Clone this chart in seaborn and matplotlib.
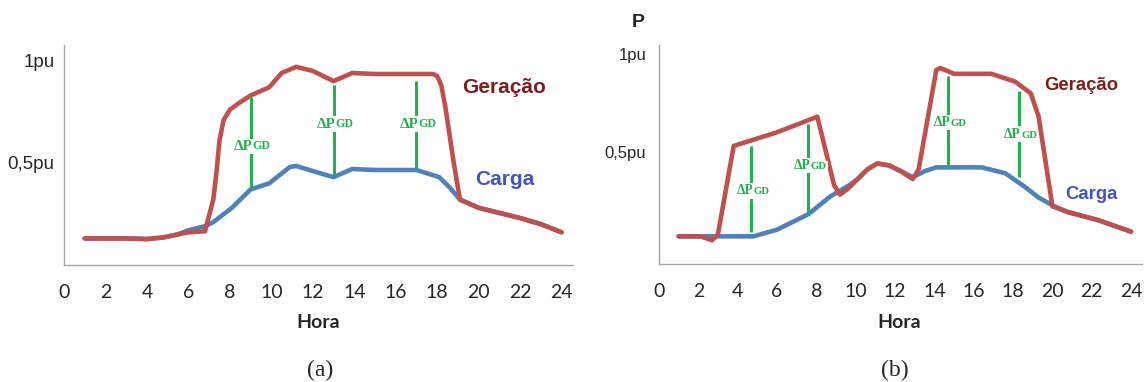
import numpy as np
import pandas as pd
import seaborn as sns
import matplotlib.pyplot as plt

# Panel (a): generation vs load
hours_a_ger = [1, 2, 3, 4, 4.8, 5.5, 6.0, 6.8, 7.2, 7.35, 7.5, 7.7, 8.0, 8.4, 9.0, 9.9, 10.5,
               11.2, 12.0, 13.0, 13.9, 15.0, 16.0, 17.0, 17.8, 18.0, 18.2, 18.4, 18.8,
               19.1, 20.0, 21.0, 22.0, 23.0, 24.0]
ger_a = [0.13, 0.13, 0.13, 0.127, 0.135, 0.15, 0.16, 0.165, 0.32, 0.45, 0.61, 0.71, 0.76,
         0.79, 0.83, 0.87, 0.94, 0.97, 0.95, 0.90, 0.94, 0.935, 0.935, 0.935, 0.935, 0.925,
         0.88, 0.77, 0.50, 0.32, 0.28, 0.255, 0.23, 0.20, 0.16]
hours_a_car = [1, 2, 3, 4, 4.8, 5.5, 6.0, 6.8, 7.2, 8.1, 9.0, 9.9, 10.9, 11.2, 12.0, 13.0,
               13.9, 15.0, 17.0, 18.1, 18.6, 19.1, 20.0, 21.0, 22.0, 23.0, 24.0]
car_a = [0.13, 0.13, 0.13, 0.127, 0.135, 0.15, 0.17, 0.19, 0.21, 0.28, 0.37, 0.40, 0.48,
         0.485, 0.46, 0.43, 0.47, 0.465, 0.465, 0.43, 0.38, 0.32, 0.28, 0.255, 0.23, 0.20,
         0.16]
dp_a_x = [9.0, 13.0, 17.0]
dp_a_top = [0.82, 0.88, 0.90]
dp_a_bot = [0.38, 0.44, 0.465]
dp_a_lab = [0.58, 0.69, 0.69]

# Panel (b)
hours_b_ger = [1.0, 2.1, 2.7, 3.0, 3.8, 6.0, 8.05, 8.9, 9.2, 9.6, 10.1, 10.6, 11.1, 11.7,
               12.3, 12.9, 13.2, 14.1, 14.3, 15.0, 16.9, 18.1, 18.9, 19.3, 20.0, 20.8,
               22.3, 24.0]
ger_b = [0.066, 0.066, 0.046, 0.077, 0.53, 0.60, 0.68, 0.33, 0.28, 0.31, 0.36, 0.41, 0.44,
         0.43, 0.40, 0.36, 0.41, 0.92, 0.93, 0.90, 0.90, 0.86, 0.80, 0.68, 0.22, 0.19,
         0.15, 0.09]
hours_b_car = [1.0, 3.0, 4.8, 6.0, 7.6, 8.7, 9.7, 10.1, 10.6, 11.1, 11.7, 12.3, 12.9, 13.5,
               14.1, 16.4, 17.6, 18.6, 19.3, 20.1, 20.8, 22.3, 24.0]
car_b = [0.066, 0.066, 0.066, 0.10, 0.18, 0.27, 0.33, 0.36, 0.41, 0.44, 0.43, 0.40, 0.37,
         0.40, 0.42, 0.42, 0.39, 0.32, 0.265, 0.22, 0.19, 0.15, 0.09]
dp_b_x = [4.7, 7.6, 14.7, 18.3]
dp_b_top = [0.53, 0.64, 0.89, 0.81]
dp_b_bot = [0.087, 0.18, 0.42, 0.37]
dp_b_lab = [0.30, 0.43, 0.65, 0.59]

x_ticks = list(range(0, 25, 2))
y_ticks = [0.5, 1.0]
y_tick_labels = ["0,5pu", "1pu"]

RED = "#C0504D"
BLUE = "#4F81BD"
GREEN = "#22B14C"

sns.set_theme(style="white")
plt.rcParams['font.family'] = ['Liberation Sans', 'DejaVu Sans']

fig = plt.figure(figsize=(11.45, 3.82), dpi=100)
ax_a = fig.add_axes([0.0559, 0.3063, 0.4445, 0.5759])
ax_b = fig.add_axes([0.5755, 0.3089, 0.4218, 0.5733])


def draw_panel(ax, h_ger, ger, h_car, car, dx, dtop, dbot, dlab, ylim, scale, ger_pos, car_pos):
    df_car = pd.DataFrame({'hora': h_car, 'p': car})
    df_ger = pd.DataFrame({'hora': h_ger, 'p': ger})
    sns.lineplot(data=df_car, x='hora', y='p', ax=ax, color=BLUE, lw=3.3,
                 sort=False, estimator=None, solid_capstyle='round', solid_joinstyle='round')
    sns.lineplot(data=df_ger, x='hora', y='p', ax=ax, color=RED, lw=3.3,
                 sort=False, estimator=None, solid_capstyle='round', solid_joinstyle='round')

    # delta P lines with labels centred on them
    ax.vlines(dx, dbot, dtop, color=GREEN, lw=2.2, zorder=3)
    for x, y in zip(dx, dlab):
        t = ax.annotate("ΔP", xy=(x, y), xytext=(1.5, 0), textcoords='offset points',
                        ha='right', va='center', color=GREEN, fontweight='bold',
                        fontsize=11 * scale, family='Liberation Serif', zorder=4,
                        bbox=dict(facecolor='white', edgecolor='none', pad=1.0))
        ax.annotate("GD", xy=(1, 0.07), xycoords=t, ha='left', va='bottom', color=GREEN,
                    fontweight='bold', fontsize=8.6 * scale, family='Liberation Serif',
                    zorder=4, bbox=dict(facecolor='white', edgecolor='none', pad=1.0))

    ax.text(ger_pos[0], ger_pos[1], "Geração", color="#7F1D1D", fontweight='bold',
            fontsize=15 * scale, ha='center', va='center')
    ax.text(car_pos[0], car_pos[1], "Carga", color="#4253C6", fontweight='bold',
            fontsize=15 * scale, ha='center', va='center')

    ax.set_xlim(0, 24.55)
    ax.set_ylim(*ylim)
    ax.set_xticks(x_ticks)
    ax.set_xticklabels([str(v) for v in x_ticks], family='Lato', fontsize=14)
    ax.set_yticks(y_ticks)
    ax.set_yticklabels(y_tick_labels, fontsize=13.5 * scale)
    ax.tick_params(axis='x', length=0, pad=14)
    ax.tick_params(axis='y', length=0, pad=7 if scale == 1 else 9)
    ax.set_xlabel("")
    ax.set_ylabel("")
    for side in ['top', 'right']:
        ax.spines[side].set_visible(False)
    for side in ['left', 'bottom']:
        ax.spines[side].set_color('#A6A6A6')
        ax.spines[side].set_linewidth(1.0)
    ax.grid(False)


draw_panel(ax_a, hours_a_ger, ger_a, hours_a_car, car_a, dp_a_x, dp_a_top, dp_a_bot,
           dp_a_lab, (0, 1.077), 1.0, (21.25, 0.868), (21.25, 0.417))
draw_panel(ax_b, hours_b_ger, ger_b, hours_b_car, car_b, dp_b_x, dp_b_top, dp_b_bot,
           dp_b_lab, (-0.076, 1.048), 0.89, (21.45, 0.84), (21.96, 0.28))

fig.text(0.2777, 0.1545, "Hora", ha='center', va='center', fontweight='bold',
         family='Lato', fontsize=14)
fig.text(0.785, 0.1545, "Hora", ha='center', va='center', fontweight='bold',
         family='Lato', fontsize=14)
fig.text(0.2795, 0.0314, "(a)", ha='center', va='center', family='Liberation Serif',
         fontsize=17)
fig.text(0.7817, 0.0314, "(b)", ha='center', va='center', family='Liberation Serif',
         fontsize=17)
fig.text(0.557, 0.942, "P", ha='center', va='center', fontweight='bold', fontsize=14)

fig.savefig("out.png", dpi=100, facecolor='white')
